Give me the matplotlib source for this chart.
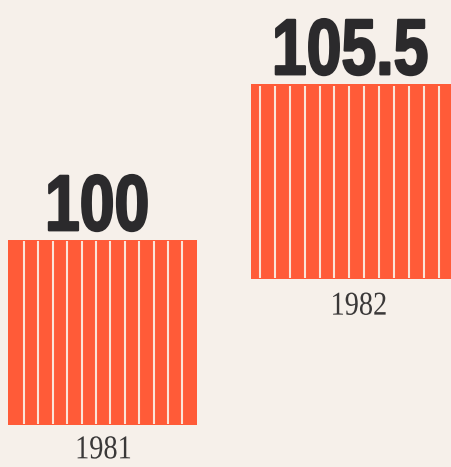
import matplotlib
matplotlib.use("Agg")
import matplotlib.pyplot as plt
import numpy as np
from matplotlib.patheffects import AbstractPathEffect
from matplotlib.transforms import Affine2D

# ---- data ----
years = ["1981", "1982"]
values = [100, 105.5]
value_labels = ["100", "105.5"]

# ---- layout / style (not data) ----
bar_left = [8, 251]          # x in pixel-like axis units
bar_width = [189, 202]
bar_bottom = [22.7, 101.5]   # stylised staggered baselines
stripe_first = [16, 9]
stripe_step = [14.4, 14.9]
value_dx = [-5, -1.5]
year_dx = [1, 7]
year_dy = [-24, -25.5]

BG = "#f6f0ea"
BAR = "#ff5b38"
STRIPE = "#fbe4d8"
INK = "#2b2a2c"


class Squeeze(AbstractPathEffect):
    """Horizontally condense glyphs around their centre (text stays text)."""

    def __init__(self, sx, stroke=0.0, color=None):
        super().__init__()
        self.sx = sx
        self.stroke = stroke
        self.color = color

    def draw_path(self, renderer, gc, tpath, affine, rgbFace=None):
        v = tpath.vertices
        cx = (v[:, 0].min() + v[:, 0].max()) / 2 if len(v) else 0
        aff = Affine2D().translate(-cx, 0).scale(self.sx, 1).translate(cx, 0) + affine
        if self.stroke > 0:
            gc0 = renderer.new_gc()
            gc0.copy_properties(gc)
            gc0.set_foreground(self.color)
            gc0.set_linewidth(self.stroke)
            renderer.draw_path(gc0, tpath, aff, rgbFace)
            gc0.restore()
        renderer.draw_path(gc, tpath, aff, rgbFace)


fig = plt.figure(figsize=(4.52, 4.67), dpi=100, facecolor=BG)
ax = fig.add_axes([0, 0, 1, 1], facecolor=BG)
ax.set_xlim(0, 452)
ax.set_ylim(0, 467 / 1.85)
ax.axis("off")

for i, (yr, v, lab) in enumerate(zip(years, values, value_labels)):
    ax.bar(bar_left[i], v, width=bar_width[i], bottom=bar_bottom[i],
           align="edge", color=BAR, edgecolor="none", zorder=2)
    xs = np.arange(bar_left[i] + stripe_first[i], bar_left[i] + bar_width[i] - 4, stripe_step[i])
    ax.vlines(xs, bar_bottom[i] + 0.8, bar_bottom[i] + v - 0.8, colors=STRIPE,
              linewidth=1.5, zorder=3)
    cx = bar_left[i] + bar_width[i] / 2
    ax.annotate(lab, (cx + value_dx[i], bar_bottom[i] + v), xytext=(0, 7),
                textcoords="offset points", ha="center", va="baseline",
                fontsize=57, fontweight="bold",
                family=["Liberation Sans", "DejaVu Sans"], color=INK,
                path_effects=[Squeeze(0.79, stroke=1.6, color=INK)])
    ax.annotate(yr, (cx + year_dx[i], bar_bottom[i]), xytext=(0, year_dy[i]),
                textcoords="offset points", ha="center", va="baseline",
                fontsize=24, family=["Liberation Serif", "DejaVu Serif"],
                color="#3a3838", path_effects=[Squeeze(0.85)])

fig.savefig("out.png", dpi=100, facecolor=BG)
